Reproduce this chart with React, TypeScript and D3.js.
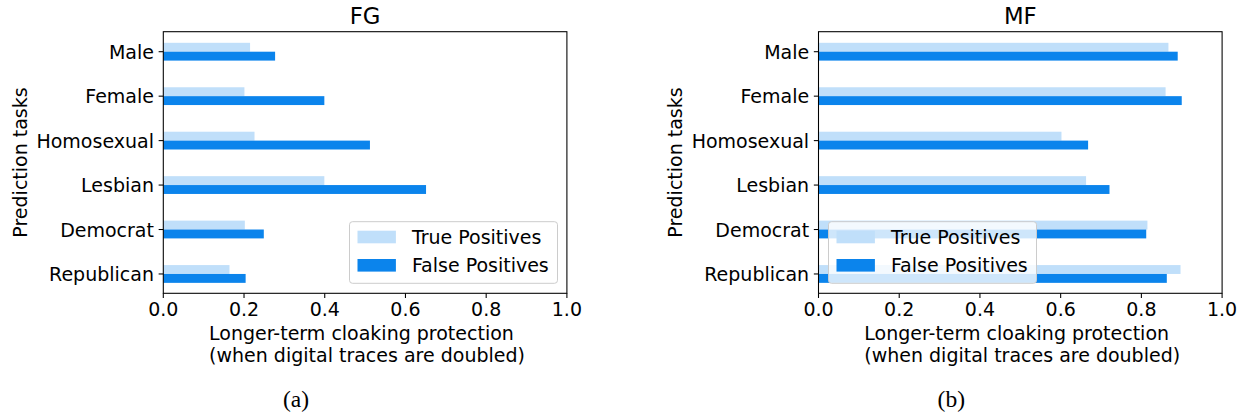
import React from "react";
import * as d3 from "d3";

const categories = ["Male", "Female", "Homosexual", "Lesbian", "Democrat", "Republican"];
const fgTruePositives = [0.215, 0.201, 0.226, 0.399, 0.202, 0.164];
const fgFalsePositives = [0.277, 0.399, 0.512, 0.651, 0.249, 0.204];
const mfTruePositives = [0.867, 0.86, 0.602, 0.663, 0.815, 0.897];
const mfFalsePositives = [0.89, 0.9, 0.668, 0.721, 0.812, 0.863];
const xTicks = [0, 0.2, 0.4, 0.6, 0.8, 1.0];
const seriesNames = ["True Positives", "False Positives"];
const panelTitles = ["FG", "MF"];
const captions = ["(a)", "(b)"];
const yLabel = "Prediction tasks";
const xLabelLines = ["Longer-term cloaking protection", "(when digital traces are doubled)"];

const COLORS = ["#c0dffa", "#0b84ec"];
const FONT = "'DejaVu Sans', sans-serif";
const FS = 19;

type PanelProps = {
  left: number;
  title: string;
  tp: number[];
  fp: number[];
  legendSide: "left" | "right";
  caption: string;
};

function Panel({ left, title, tp, fp, legendSide, caption }: PanelProps) {
  const top = 31.7;
  const bottom = 293.3;
  const width = 403.6;
  const right = left + width;
  const cx = left + width / 2;
  const x = d3.scaleLinear().domain([0, 1]).range([left, right]);
  const y = d3.scaleLinear().domain([-0.45, 5.435]).range([top, bottom]);
  const h = y(0.2) - y(0);
  const tickLen = 4.67;
  const pad = 4.67;

  const legW = 208;
  const legH = 61.6;
  const legX = legendSide === "right" ? right - 9.4 - legW : left + 10;
  const legY = bottom - 10 - legH;

  return (
    <g>
      {categories.map((c, i) => (
        <g key={c}>
          <rect x={x(0)} y={y(i) - h} width={x(tp[i]) - x(0)} height={h} fill={COLORS[0]} />
          <rect x={x(0)} y={y(i)} width={x(fp[i]) - x(0)} height={h} fill={COLORS[1]} />
        </g>
      ))}
      <rect x={left} y={top} width={width} height={bottom - top} fill="none" stroke="#000" strokeWidth={1.07} />
      {categories.map((c, i) => (
        <g key={"yt" + c}>
          <line x1={left - tickLen} x2={left} y1={y(i)} y2={y(i)} stroke="#000" strokeWidth={1.07} />
          <text x={left - tickLen - pad} y={y(i)} textAnchor="end" dominantBaseline="central"
            fontFamily={FONT} fontSize={FS} fill="#000">{c}</text>
        </g>
      ))}
      {xTicks.map((t) => (
        <g key={"xt" + t}>
          <line x1={x(t)} x2={x(t)} y1={bottom} y2={bottom + tickLen} stroke="#000" strokeWidth={1.07} />
          <text x={x(t)} y={bottom + tickLen + pad + 13.6} textAnchor="middle"
            fontFamily={FONT} fontSize={FS} fill="#000">{d3.format(".1f")(t)}</text>
        </g>
      ))}
      <text fontFamily={FONT} fontSize={FS} fill="#000">
        <tspan x={cx - 156} y={340}>{xLabelLines[0]}</tspan>
        <tspan x={cx - 156} y={362}>{xLabelLines[1]}</tspan>
      </text>
      <text transform={`translate(${left - 136.5},${(top + bottom) / 2}) rotate(-90)`} textAnchor="middle"
        fontFamily={FONT} fontSize={FS} fill="#000">{yLabel}</text>
      <text x={cx} y={24} textAnchor="middle" fontFamily={FONT} fontSize={22.8} fill="#000">{title}</text>
      <g>
        <rect x={legX} y={legY} width={legW} height={legH} rx={3} ry={3}
          fill="#fff" fillOpacity={0.8} stroke="#cccccc" strokeWidth={1} />
        {seriesNames.map((s, k) => (
          <g key={s}>
            <rect x={legX + 8} y={legY + 9 + k * 28.3} width={38.4} height={12.6} fill={COLORS[k]} />
            <text x={legX + 62.4} y={legY + 9 + k * 28.3 + 6.3} dominantBaseline="central"
              fontFamily={FONT} fontSize={FS} fill="#000">{s}</text>
          </g>
        ))}
      </g>
      <text x={cx - 69} y={407} textAnchor="middle" fontFamily="'Liberation Serif', 'Times New Roman', serif"
        fontSize={23.5} fill="#000">{caption}</text>
    </g>
  );
}

export default function App() {
  return (
    <svg width={1247} height={416} style={{ position: "absolute", left: 0, top: 0, background: "#fff" }}>
      <rect x={0} y={0} width={1247} height={416} fill="#fff" />
      <Panel left={163.3} title={panelTitles[0]} tp={fgTruePositives} fp={fgFalsePositives}
        legendSide="right" caption={captions[0]} />
      <Panel left={818.5} title={panelTitles[1]} tp={mfTruePositives} fp={mfFalsePositives}
        legendSide="left" caption={captions[1]} />
    </svg>
  );
}
